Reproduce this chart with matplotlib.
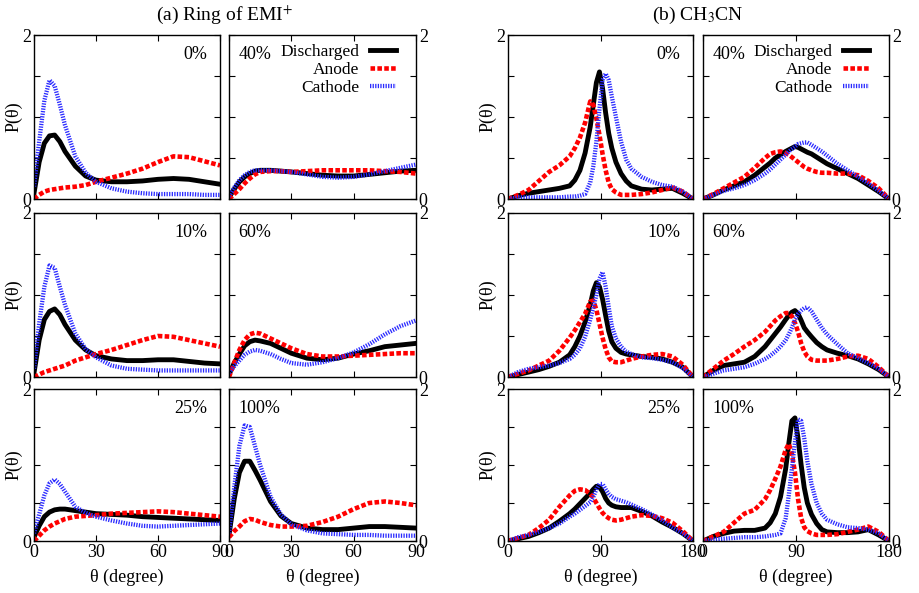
import matplotlib
matplotlib.use("Agg")
import matplotlib.pyplot as plt

plt.rcParams['font.family'] = ['Liberation Serif', 'DejaVu Serif']
plt.rcParams['mathtext.fontset'] = 'stix'
plt.rcParams['font.size'] = 13

# angle grids (degree)
theta_a = [0, 2.5, 5, 7.5, 10, 12.5, 15, 20, 25, 30, 37.5, 45, 52.5, 60, 67.5, 75, 82.5, 90]
theta_b = [0, 10, 20, 30, 40, 50, 60, 65, 70, 75, 80, 83, 86, 89, 92, 95, 98, 101,
           105, 110, 115, 120, 130, 140, 150, 160, 170, 180]

# (a) ring of EMI+
a0_dis = [0.07, 0.45, 0.68, 0.77, 0.78, 0.70, 0.58, 0.40, 0.28, 0.23, 0.21, 0.21, 0.22, 0.24, 0.25, 0.24, 0.21, 0.18]
a0_ano = [0.0, 0.05, 0.09, 0.11, 0.12, 0.13, 0.14, 0.15, 0.17, 0.21, 0.26, 0.31, 0.37, 0.45, 0.52, 0.51, 0.46, 0.41]
a0_cat = [0.15, 0.70, 1.20, 1.45, 1.38, 1.15, 0.90, 0.52, 0.32, 0.21, 0.13, 0.09, 0.07, 0.06, 0.06, 0.06, 0.05, 0.05]

a10_dis = [0.05, 0.45, 0.70, 0.80, 0.83, 0.76, 0.64, 0.45, 0.33, 0.26, 0.22, 0.20, 0.20, 0.21, 0.21, 0.19, 0.17, 0.16]
a10_ano = [0.0, 0.03, 0.06, 0.08, 0.10, 0.12, 0.14, 0.20, 0.24, 0.28, 0.33, 0.39, 0.45, 0.50, 0.49, 0.45, 0.41, 0.37]
a10_cat = [0.10, 0.65, 1.10, 1.36, 1.33, 1.10, 0.88, 0.53, 0.34, 0.24, 0.14, 0.10, 0.09, 0.08, 0.08, 0.08, 0.08, 0.08]

a25_dis = [0.05, 0.20, 0.32, 0.38, 0.41, 0.42, 0.42, 0.40, 0.38, 0.36, 0.35, 0.34, 0.32, 0.31, 0.30, 0.29, 0.28, 0.27]
a25_ano = [0.0, 0.07, 0.14, 0.19, 0.23, 0.26, 0.29, 0.32, 0.33, 0.34, 0.36, 0.37, 0.38, 0.39, 0.38, 0.36, 0.34, 0.32]
a25_cat = [0.10, 0.35, 0.60, 0.76, 0.81, 0.75, 0.65, 0.45, 0.37, 0.32, 0.27, 0.23, 0.20, 0.19, 0.20, 0.21, 0.22, 0.23]

a40_dis = [0.02, 0.12, 0.21, 0.27, 0.31, 0.34, 0.35, 0.35, 0.34, 0.33, 0.31, 0.29, 0.28, 0.28, 0.30, 0.32, 0.34, 0.35]
a40_ano = [0.0, 0.06, 0.12, 0.19, 0.25, 0.30, 0.33, 0.34, 0.34, 0.33, 0.34, 0.35, 0.35, 0.35, 0.35, 0.34, 0.33, 0.31]
a40_cat = [0.03, 0.14, 0.23, 0.29, 0.33, 0.35, 0.35, 0.35, 0.34, 0.33, 0.30, 0.27, 0.26, 0.27, 0.30, 0.34, 0.38, 0.42]

a60_dis = [0.03, 0.17, 0.28, 0.38, 0.43, 0.45, 0.44, 0.41, 0.35, 0.29, 0.23, 0.21, 0.23, 0.28, 0.32, 0.37, 0.39, 0.41]
a60_ano = [0.0, 0.17, 0.33, 0.45, 0.52, 0.54, 0.53, 0.47, 0.41, 0.35, 0.28, 0.25, 0.25, 0.26, 0.27, 0.28, 0.29, 0.29]
a60_cat = [0.05, 0.13, 0.20, 0.27, 0.31, 0.33, 0.32, 0.28, 0.22, 0.17, 0.15, 0.18, 0.23, 0.30, 0.40, 0.52, 0.62, 0.69]

a100_dis = [0.08, 0.55, 0.90, 1.05, 1.05, 0.93, 0.80, 0.52, 0.33, 0.23, 0.17, 0.15, 0.15, 0.17, 0.19, 0.19, 0.18, 0.17]
a100_ano = [0.05, 0.13, 0.19, 0.26, 0.29, 0.28, 0.25, 0.21, 0.19, 0.19, 0.20, 0.25, 0.32, 0.42, 0.50, 0.52, 0.50, 0.47]
a100_cat = [0.10, 0.70, 1.25, 1.52, 1.50, 1.25, 1.00, 0.58, 0.35, 0.22, 0.14, 0.10, 0.09, 0.08, 0.08, 0.07, 0.07, 0.07]

# (b) CH3CN
b0_dis = [0, 0.04, 0.07, 0.09, 0.11, 0.13, 0.16, 0.23, 0.35, 0.56, 0.88, 1.15, 1.42, 1.55, 1.35, 1.05, 0.80, 0.62,
          0.45, 0.31, 0.22, 0.16, 0.12, 0.11, 0.12, 0.13, 0.07, 0]
b0_ano = [0, 0.05, 0.11, 0.22, 0.33, 0.41, 0.52, 0.62, 0.75, 0.93, 1.19, 1.15, 0.98, 0.78, 0.55, 0.35, 0.20, 0.12,
          0.08, 0.05, 0.05, 0.05, 0.06, 0.08, 0.11, 0.14, 0.09, 0]
b0_cat = [0, 0.02, 0.02, 0.02, 0.02, 0.02, 0.03, 0.03, 0.04, 0.06, 0.20, 0.40, 0.70, 1.10, 1.45, 1.53, 1.45, 1.25,
          1.00, 0.70, 0.48, 0.37, 0.27, 0.21, 0.17, 0.15, 0.09, 0]

b10_dis = [0, 0.03, 0.06, 0.09, 0.13, 0.18, 0.27, 0.37, 0.50, 0.67, 0.88, 1.05, 1.15, 1.10, 0.95, 0.75, 0.56, 0.43,
           0.35, 0.30, 0.28, 0.27, 0.25, 0.24, 0.22, 0.18, 0.12, 0]
b10_ano = [0, 0.04, 0.08, 0.14, 0.20, 0.32, 0.48, 0.57, 0.67, 0.77, 0.92, 0.93, 0.82, 0.65, 0.48, 0.34, 0.24, 0.19,
           0.18, 0.18, 0.20, 0.22, 0.25, 0.27, 0.28, 0.25, 0.15, 0]
b10_cat = [0, 0.06, 0.10, 0.12, 0.14, 0.17, 0.22, 0.27, 0.35, 0.49, 0.70, 0.85, 1.00, 1.20, 1.28, 1.10, 0.85, 0.62,
           0.47, 0.37, 0.31, 0.28, 0.24, 0.23, 0.21, 0.18, 0.11, 0]

b25_dis = [0, 0.03, 0.06, 0.11, 0.17, 0.26, 0.36, 0.42, 0.49, 0.56, 0.63, 0.68, 0.72, 0.71, 0.65, 0.56, 0.50, 0.47,
           0.45, 0.44, 0.44, 0.44, 0.39, 0.33, 0.25, 0.18, 0.10, 0]
b25_ano = [0, 0.04, 0.08, 0.17, 0.28, 0.45, 0.60, 0.66, 0.68, 0.67, 0.62, 0.57, 0.50, 0.43, 0.37, 0.33, 0.30, 0.28,
           0.27, 0.28, 0.30, 0.32, 0.34, 0.33, 0.30, 0.24, 0.13, 0]
b25_cat = [0, 0.05, 0.08, 0.12, 0.17, 0.23, 0.32, 0.36, 0.41, 0.46, 0.51, 0.58, 0.68, 0.75, 0.75, 0.68, 0.62, 0.58,
           0.55, 0.53, 0.51, 0.48, 0.42, 0.35, 0.27, 0.18, 0.10, 0]

b40_dis = [0, 0.05, 0.11, 0.16, 0.21, 0.29, 0.39, 0.44, 0.50, 0.54, 0.58, 0.60, 0.62, 0.64, 0.63, 0.61, 0.59, 0.57,
           0.55, 0.51, 0.47, 0.43, 0.37, 0.31, 0.25, 0.17, 0.09, 0]
b40_ano = [0, 0.06, 0.13, 0.20, 0.27, 0.38, 0.50, 0.55, 0.57, 0.58, 0.56, 0.54, 0.51, 0.48, 0.45, 0.42, 0.39, 0.37,
           0.35, 0.33, 0.32, 0.32, 0.31, 0.31, 0.29, 0.22, 0.13, 0]
b40_cat = [0, 0.05, 0.10, 0.13, 0.17, 0.23, 0.31, 0.36, 0.42, 0.48, 0.54, 0.58, 0.61, 0.64, 0.67, 0.68, 0.69, 0.69,
           0.66, 0.62, 0.58, 0.53, 0.43, 0.35, 0.27, 0.19, 0.10, 0]

b60_dis = [0, 0.08, 0.14, 0.16, 0.18, 0.25, 0.37, 0.45, 0.53, 0.61, 0.70, 0.75, 0.79, 0.81, 0.77, 0.69, 0.60, 0.55,
           0.49, 0.42, 0.37, 0.33, 0.29, 0.26, 0.22, 0.16, 0.09, 0]
b60_ano = [0, 0.10, 0.20, 0.28, 0.37, 0.45, 0.55, 0.62, 0.69, 0.74, 0.78, 0.78, 0.74, 0.66, 0.55, 0.41, 0.31, 0.25,
           0.21, 0.20, 0.20, 0.20, 0.22, 0.25, 0.26, 0.22, 0.12, 0]
b60_cat = [0, 0.04, 0.08, 0.10, 0.12, 0.16, 0.22, 0.26, 0.31, 0.37, 0.45, 0.52, 0.60, 0.70, 0.77, 0.81, 0.84, 0.85,
           0.80, 0.70, 0.60, 0.52, 0.40, 0.29, 0.23, 0.17, 0.10, 0]

b100_dis = [0, 0.06, 0.10, 0.13, 0.14, 0.14, 0.17, 0.24, 0.36, 0.58, 0.95, 1.28, 1.58, 1.62, 1.35, 1.00, 0.70, 0.50,
            0.35, 0.23, 0.15, 0.12, 0.11, 0.11, 0.12, 0.15, 0.08, 0]
b100_ano = [0, 0.06, 0.12, 0.24, 0.36, 0.41, 0.55, 0.67, 0.82, 0.98, 1.20, 1.28, 1.15, 0.90, 0.55, 0.30, 0.18, 0.13,
            0.10, 0.08, 0.08, 0.08, 0.09, 0.12, 0.15, 0.19, 0.12, 0]
b100_cat = [0, 0.02, 0.03, 0.04, 0.05, 0.05, 0.06, 0.07, 0.08, 0.10, 0.30, 0.60, 0.95, 1.30, 1.60, 1.58, 1.35, 1.05,
            0.75, 0.50, 0.36, 0.28, 0.22, 0.18, 0.17, 0.15, 0.10, 0]

fig = plt.figure(figsize=(9.2, 5.93), dpi=100)
W, H = 920.0, 593.0

cols = [(34, 220), (229, 416), (508, 693), (703, 889)]
rows = [(35, 199), (213, 377), (389, 541)]


def make_ax(col, row):
    x0, x1 = cols[col]
    y0, y1 = rows[row]
    return fig.add_axes([x0 / W, 1 - y1 / H, (x1 - x0) / W, (y1 - y0) / H])


panels = [
    # col, row, theta, dis, ano, cat, label
    (0, 0, theta_a, a0_dis, a0_ano, a0_cat, '0%'),
    (0, 1, theta_a, a10_dis, a10_ano, a10_cat, '10%'),
    (0, 2, theta_a, a25_dis, a25_ano, a25_cat, '25%'),
    (1, 0, theta_a, a40_dis, a40_ano, a40_cat, '40%'),
    (1, 1, theta_a, a60_dis, a60_ano, a60_cat, '60%'),
    (1, 2, theta_a, a100_dis, a100_ano, a100_cat, '100%'),
    (2, 0, theta_b, b0_dis, b0_ano, b0_cat, '0%'),
    (2, 1, theta_b, b10_dis, b10_ano, b10_cat, '10%'),
    (2, 2, theta_b, b25_dis, b25_ano, b25_cat, '25%'),
    (3, 0, theta_b, b40_dis, b40_ano, b40_cat, '40%'),
    (3, 1, theta_b, b60_dis, b60_ano, b60_cat, '60%'),
    (3, 2, theta_b, b100_dis, b100_ano, b100_cat, '100%'),
]

for col, row, th, dis, ano, cat, lab in panels:
    ax = make_ax(col, row)
    ax.plot(th, dis, color='black', lw=3.5, solid_joinstyle='round', label='Discharged')
    ax.plot(th, ano, color='#ff0000', lw=3.3, linestyle=(0, (1.0, 0.5)), label='Anode')
    ax.plot(th, cat, color='#2a2aff', lw=3.1, linestyle=(0, (0.3, 0.3)), label='Cathode')

    xmax = 90 if col < 2 else 180
    ax.set_xlim(0, xmax)
    ax.set_ylim(0, 2)
    ax.set_xticks([0, 30, 60, 90] if col < 2 else [0, 90, 180])
    ax.set_yticks([0, 0.5, 1, 1.5, 2])
    ax.set_yticklabels(['0', '', '', '', '2'])
    ax.tick_params(direction='in', length=4, width=0.8, top=True, right=True,
                   labelsize=13, pad=2)
    if row < 2:
        ax.set_xticklabels([])
    else:
        ax.set_xlabel('θ (degree)', fontsize=13, labelpad=6)
    if col in (1, 3):
        ax.tick_params(labelleft=False, labelright=True)
    else:
        ax.set_ylabel('P(θ)', fontsize=13, labelpad=0)
    for sp in ax.spines.values():
        sp.set_linewidth(1.0)

    if col in (0, 2):
        ax.text(0.93, 0.93, lab, transform=ax.transAxes, ha='right', va='top', fontsize=13)
    else:
        ax.text(0.05, 0.93, lab, transform=ax.transAxes, ha='left', va='top', fontsize=13)
        if row == 0:
            ax.legend(loc='upper right', bbox_to_anchor=(0.893, 0.948), frameon=False,
                      markerfirst=False, handlelength=1.5, handletextpad=0.6,
                      labelspacing=0.12, borderaxespad=0, borderpad=0, fontsize=12.5)

fig.text(225 / W, 1 - 15 / H, '(a) Ring of EMI$^{+}$', ha='center', va='center', fontsize=14)
fig.text(698 / W, 1 - 15 / H, '(b) CH$_{3}$CN', ha='center', va='center', fontsize=14)

fig.savefig('out.png', dpi=100)
